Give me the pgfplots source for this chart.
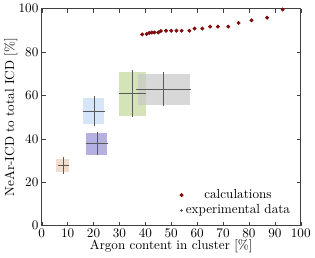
\documentclass[border=0pt]{standalone}
\usepackage{pgfplots}
\pgfplotsset{compat=1.18}
\definecolor{calc}{RGB}{128,10,10}
\definecolor{errc}{RGB}{90,90,90}
\definecolor{bpeach}{RGB}{242,220,205}
\definecolor{bblue}{RGB}{214,230,248}
\definecolor{bpurple}{RGB}{180,176,226}
\definecolor{bgreen}{RGB}{212,228,182}
\definecolor{bgray}{RGB}{200,200,200}
\begin{document}
\begin{tikzpicture}
\begin{axis}[
  scale only axis,
  width=197pt, height=165pt,
  xmin=0, xmax=100, ymin=0, ymax=100,
  xtick={0,10,...,100}, ytick={0,20,...,100},
  tick align=inside,
  major tick length=3pt,
  axis line style={black!75},
  every tick/.style={black!75, line width=0.3pt},
  xticklabel style={yshift=1pt},
  yticklabel style={xshift=1pt},
  xlabel={Argon content in cluster [\%]},
  ylabel={NeAr-ICD to total ICD [\%]},
  xlabel style={yshift=5pt},
  ylabel style={yshift=-6pt},
  legend style={draw=none, fill=none, at={(0.985,0.02)}, anchor=south east, font=\normalsize, row sep=-1pt},
  legend cell align=center,
]
% boxes
\addplot[fill=bpeach, draw=none, forget plot] coordinates {(5.6,24.5) (10.4,24.5) (10.4,30.6) (5.6,30.6)} --cycle;
\addplot[fill=bblue, draw=none, forget plot] coordinates {(16,46.6) (24.2,46.6) (24.2,58.8) (16,58.8)} --cycle;
\addplot[fill=bpurple, draw=none, forget plot] coordinates {(17.2,32.6) (25.3,32.6) (25.3,42.8) (17.2,42.8)} --cycle;
\addplot[fill=bgreen, draw=none, forget plot] coordinates {(29.8,50.7) (40.2,50.7) (40.2,71) (29.8,71)} --cycle;
\addplot[fill=bgray, fill opacity=0.7, draw=none, forget plot] coordinates {(37,55.7) (57.3,55.7) (57.3,70) (37,70)} --cycle;
% error bars
\addplot[errc, only marks, mark=*, mark size=0pt, forget plot,
  error bars/.cd, x dir=both, x explicit, y dir=both, y explicit,
  error bar style={errc, line width=0.3pt},
  error mark options={errc, mark size=1.2pt, line width=0.3pt}]
  coordinates {
  (8.3,27.7) +- (1.6,3)
  (20.2,52.8) +- (3.8,6)
  (21.3,37.8) +- (3.7,4.6)
  (35.1,61) +- (4.6,10)
  (47,62.9) +- (10,7.2)
  };
% calculations
\addplot[only marks, mark=*, mark size=1.3pt, calc] coordinates {
  (38.8,88.1) (40.5,88.3) (41.5,88.8) (42.5,89) (43.5,89) (45,89) (46,89.7)
  (48,89.8) (50,89.8) (52,89.8) (54,89.8) (57,89.8) (59,90.8) (62,90.8)
  (65,91.7) (68,91.7) (72,91.7) (76,93.4) (81,94.6) (87,95.8) (93,99.6)
};
\addlegendentry{calculations}
\addlegendimage{only marks, mark=+, mark size=1.2pt, errc}
\addlegendentry{experimental data}
\end{axis}
\end{tikzpicture}
\end{document}
